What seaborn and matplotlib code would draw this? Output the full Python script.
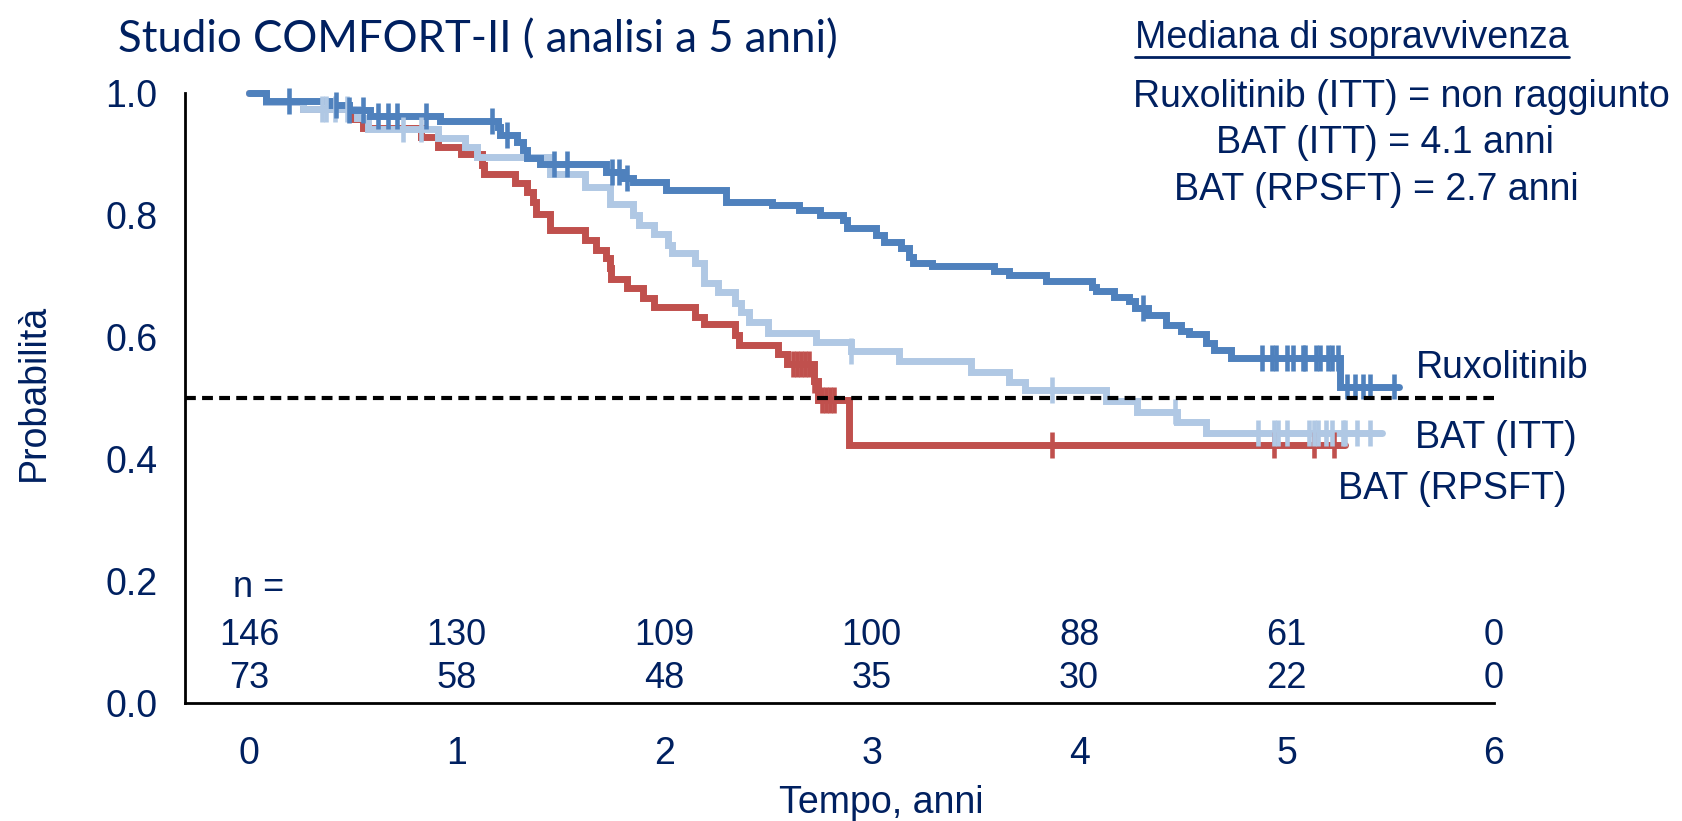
import numpy as np
import pandas as pd
import matplotlib
matplotlib.use("Agg")
import matplotlib.pyplot as plt
import seaborn as sns
from matplotlib.lines import Line2D

# Kaplan-Meier step data (time in years, survival after step)
rux_t = [0, 0.08, 0.39, 0.48, 0.58, 0.92, 1.20, 1.21, 1.29, 1.32, 1.34, 1.40, 1.72, 1.80, 1.85,
         2.01, 2.30, 2.52, 2.65, 2.75, 2.86, 2.88, 3.02, 3.06, 3.14, 3.18, 3.20, 3.29, 3.59, 3.66,
         3.84, 4.06, 4.08, 4.17, 4.24, 4.27, 4.33, 4.42, 4.49, 4.53, 4.61, 4.65, 4.73, 5.26, 5.54]
rux_s = [1.0, 0.988, 0.981, 0.973, 0.963, 0.955, 0.945, 0.932, 0.920, 0.907, 0.894, 0.884, 0.871,
         0.861, 0.855, 0.841, 0.822, 0.817, 0.809, 0.800, 0.792, 0.779, 0.768, 0.756, 0.746, 0.732,
         0.722, 0.717, 0.709, 0.702, 0.692, 0.683, 0.676, 0.666, 0.659, 0.648, 0.636, 0.620, 0.610,
         0.605, 0.590, 0.579, 0.566, 0.519, 0.519]
rux_cens = [0.19, 0.42, 0.48, 0.55, 0.62, 0.67, 0.71, 0.85, 1.17, 1.24, 1.47, 1.53, 1.75, 1.78,
            1.82, 4.31, 4.88, 4.93, 4.95, 5.00, 5.03, 5.08, 5.09, 5.14, 5.16, 5.20, 5.22, 5.25,
            5.29, 5.33, 5.37, 5.40, 5.52]

itt_t = [0, 0.08, 0.26, 0.52, 0.57, 0.91, 1.04, 1.10, 1.45, 1.62, 1.74, 1.85, 1.88, 1.95, 2.02,
         2.04, 2.15, 2.19, 2.26, 2.34, 2.37, 2.41, 2.50, 2.73, 2.90, 3.13, 3.48, 3.66, 3.74, 4.13,
         4.28, 4.47, 4.61, 5.46]
itt_s = [1.0, 0.986, 0.974, 0.960, 0.941, 0.927, 0.912, 0.896, 0.868, 0.847, 0.818, 0.800, 0.784,
         0.769, 0.751, 0.738, 0.722, 0.689, 0.675, 0.656, 0.642, 0.625, 0.607, 0.593, 0.577, 0.561,
         0.543, 0.527, 0.513, 0.495, 0.478, 0.461, 0.443, 0.443]
itt_cens = [0.35, 0.37, 0.415, 0.47, 0.74, 0.83, 2.90, 3.87, 4.46, 4.86, 4.94, 4.96, 5.00, 5.11,
            5.13, 5.15, 5.19, 5.22, 5.27, 5.28, 5.34, 5.40]

rps_t = [0, 0.08, 0.26, 0.50, 0.55, 0.83, 0.91, 1.02, 1.12, 1.13, 1.28, 1.34, 1.37, 1.38, 1.45,
         1.62, 1.67, 1.72, 1.74, 1.745, 1.82, 1.90, 1.95, 2.15, 2.19, 2.34, 2.36, 2.55, 2.59, 2.72,
         2.74, 2.89, 5.28]
rps_s = [1.0, 0.986, 0.974, 0.958, 0.943, 0.929, 0.912, 0.900, 0.882, 0.868, 0.853, 0.839, 0.822,
         0.803, 0.776, 0.759, 0.743, 0.730, 0.713, 0.695, 0.681, 0.664, 0.650, 0.634, 0.622, 0.604,
         0.587, 0.572, 0.556, 0.529, 0.497, 0.423, 0.423]
rps_cens = [2.62, 2.64, 2.66, 2.68, 2.70, 2.72, 2.76, 2.78, 2.80, 2.82, 3.87, 4.94, 5.13, 5.23]

# numbers at risk
years = [0, 1, 2, 3, 4, 5, 6]
risk_rux = [146, 130, 109, 100, 88, 61, 0]
risk_bat = [73, 58, 48, 35, 30, 22, 0]

median_lines = ["Ruxolitinib (ITT) = non raggiunto", "BAT (ITT) = 4.1 anni", "BAT (RPSFT) = 2.7 anni"]

navy = '#002060'
palette = {'BAT (RPSFT)': '#C0504D', 'BAT (ITT)': '#B0C8E4', 'Ruxolitinib': '#4F81BD'}
arms = [('BAT (RPSFT)', rps_t, rps_s, rps_cens),
        ('BAT (ITT)', itt_t, itt_s, itt_cens),
        ('Ruxolitinib', rux_t, rux_s, rux_cens)]

curve_rows, cens_rows = [], []
for name, t, s, cens in arms:
    for ti, si in zip(t, s):
        curve_rows.append((name, ti, si))
    for c in cens:
        idx = np.searchsorted(t, c, side='right') - 1
        cens_rows.append((name, c, s[idx]))
curves = pd.DataFrame(curve_rows, columns=['arm', 'time', 'surv'])
censors = pd.DataFrame(cens_rows, columns=['arm', 'time', 'surv'])

sns.set_style("white")
plt.rcParams['font.family'] = ['Liberation Sans', 'DejaVu Sans']
fs = 27

fig = plt.figure(figsize=(16.83, 8.21), dpi=100)
ax = fig.add_axes([0.1099, 0.1437, 0.7778, 0.7425])

sns.lineplot(data=curves, x='time', y='surv', hue='arm', hue_order=list(palette), palette=palette,
             drawstyle='steps-post', estimator=None, sort=False, linewidth=5,
             legend=False, ax=ax)
for ln in ax.lines:
    ln.set_clip_on(False)
    ln.set_solid_joinstyle('miter')

sns.scatterplot(data=censors, x='time', y='surv', hue='arm', palette=palette, marker='|',
                s=340, linewidth=3.3, legend=False, ax=ax, zorder=3, clip_on=False)

ax.axhline(0.5, color='black', lw=3, dashes=(2.6, 1.5), zorder=5)

ax.set_xlim(-0.31, 6.0)
ax.set_ylim(0, 1.0)
ax.set_xticks(years)
ax.set_yticks([0, 0.2, 0.4, 0.6, 0.8, 1.0])
ax.set_yticklabels([f"{v:.1f}" for v in [0, 0.2, 0.4, 0.6, 0.8, 1.0]])
ax.tick_params(axis='both', length=0, labelsize=fs, labelcolor=navy)
ax.tick_params(axis='x', pad=24)
ax.tick_params(axis='y', pad=20)
for side in ['top', 'right']:
    ax.spines[side].set_visible(False)
for side in ['left', 'bottom']:
    ax.spines[side].set_color('black')
    ax.spines[side].set_linewidth(2)

ax.set_xlabel('Tempo, anni', fontsize=fs, color=navy)
ax.set_ylabel('Probabilità', fontsize=fs, color=navy)
ax.xaxis.set_label_coords(0.532, -0.135)
ax.yaxis.set_label_coords(-0.102, 0.51)

# numbers at risk
ax.text(-0.08, 0.189, 'n =', fontsize=fs - 1, color=navy, ha='left', va='center')
for x, a, b in zip(years, risk_rux, risk_bat):
    ax.text(x, 0.1115, str(a), fontsize=fs - 1, color=navy, ha='center', va='center')
    ax.text(x, 0.041, str(b), fontsize=fs - 1, color=navy, ha='center', va='center')

# curve labels
ax.text(5.625, 0.549, 'Ruxolitinib', fontsize=fs, color=navy, ha='left', va='center')
ax.text(5.62, 0.435, 'BAT (ITT)', fontsize=fs, color=navy, ha='left', va='center')
ax.text(5.25, 0.351, 'BAT (RPSFT)', fontsize=fs, color=navy, ha='left', va='center')

W, H = 1683, 821
fig.text(118 / W, 1 - 40 / H, 'Studio COMFORT-II ( analisi a 5 anni)', family=['Lato', 'DejaVu Sans'],
         fontsize=31.5, color=navy, ha='left', va='center')

med = fig.text(1135 / W, 1 - 38 / H, 'Mediana di sopravvivenza', fontsize=fs, color=navy,
               ha='left', va='center')
centers = [1401, 1385, 1376]
ys = [97, 143, 190]
for txt, cx, cy in zip(median_lines, centers, ys):
    fig.text(cx / W, 1 - cy / H, txt, fontsize=fs, color=navy, ha='center', va='center')

fig.canvas.draw()
bb = med.get_window_extent()
fig.add_artist(Line2D([bb.x0 / W, bb.x1 / W], [1 - 57 / H, 1 - 57 / H], color=navy, lw=2,
                      transform=fig.transFigure))

fig.savefig('out.png', dpi=100)
